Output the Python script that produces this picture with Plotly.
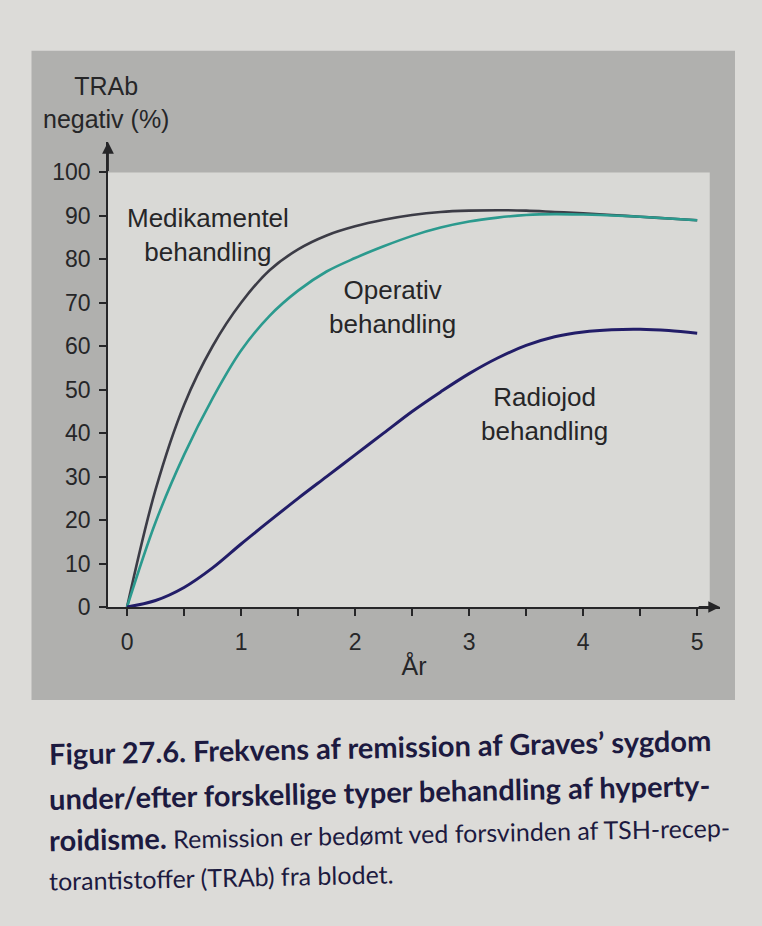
import plotly.graph_objects as go

# ---- data ----
years = [0, 0.25, 0.5, 0.75, 1, 1.25, 1.5, 1.75, 2, 2.25, 2.5, 2.75, 3, 3.25, 3.5, 3.75, 4, 4.25, 4.5, 4.75, 5]
medikamentel = [0, 27, 46.5, 60, 70, 77.5, 82.3, 85.5, 87.6, 89.1, 90.2, 90.9, 91.2, 91.3, 91.2, 90.9, 90.6, 90.2, 89.8, 89.4, 89]
operativ = [0, 19.5, 35, 48, 59, 67, 72.8, 77.2, 80.3, 83, 85.4, 87.3, 88.7, 89.6, 90.2, 90.4, 90.3, 90.1, 89.8, 89.4, 89]
radiojod = [0, 1.5, 4.5, 9, 14.5, 19.8, 25, 30, 35, 40, 45, 49.5, 53.7, 57.3, 60.2, 62.2, 63.3, 63.8, 63.9, 63.6, 63]

y_ticks = [0, 10, 20, 30, 40, 50, 60, 70, 80, 90, 100]
x_ticks = [0, 0.5, 1, 1.5, 2, 2.5, 3, 3.5, 4, 4.5, 5]
x_ticktext = ["0", "", "1", "", "2", "", "3", "", "4", "", "5"]

labels = ["Medikamentel<br>behandling", "Operativ<br>behandling", "Radiojod<br>behandling"]
label_x = [0.71, 2.33, 3.66]
label_y = [85.5, 69.0, 44.4]

caption_lines = [
    "<b>Figur 27.6. Frekvens af remission af Graves’ sygdom</b>",
    "<b>under/efter forskellige typer behandling af hyperty-</b>",
    "<b>roidisme.</b><span style=\"font-size:25px\"> Remission er bedømt ved forsvinden af TSH-recep-</span>",
    "<span style=\"font-size:25px\">torantistoffer (TRAb) fra blodet.</span>",
]

X0 = -0.167
XMAX = 5.2
YMAX = 107

fig = go.Figure()

INK = "#262628"
fig.add_trace(go.Scatter(x=years, y=medikamentel, mode="lines", line=dict(color="#3c3c46", width=2.6, shape="spline"),
                         name="Medikamentel behandling", hoverinfo="skip"))
fig.add_trace(go.Scatter(x=years, y=operativ, mode="lines", line=dict(color="#2b9a8e", width=2.6, shape="spline"),
                         name="Operativ behandling", hoverinfo="skip"))
fig.add_trace(go.Scatter(x=years, y=radiojod, mode="lines", line=dict(color="#221d68", width=3, shape="spline"),
                         name="Radiojod behandling", hoverinfo="skip"))

shapes = [
    # grey figure panel
    dict(type="rect", xref="paper", yref="paper", x0=-0.125, x1=1.0245, y0=-0.2, y1=1.196,
         fillcolor="#b0b0ae", line=dict(width=0), layer="below"),
    # light inner box
    dict(type="rect", xref="x", yref="y", x0=X0, x1=5.11, y0=0, y1=100,
         fillcolor="#d9d9d6", line=dict(width=0), layer="below"),
]

annotations = []
for t, xx, yy in zip(labels, label_x, label_y):
    annotations.append(dict(x=xx, y=yy, xref="x", yref="y", text=t, showarrow=False,
                            font=dict(family="Liberation Sans, Arial", size=26, color=INK), align="center"))

# axis arrows
annotations.append(dict(x=X0, y=YMAX, ax=X0, ay=100, xref="x", yref="y", axref="x", ayref="y",
                        text="", showarrow=True, arrowhead=2, arrowsize=1.3, arrowwidth=1.8, arrowcolor=INK))
annotations.append(dict(x=XMAX, y=0, ax=5.0, ay=0, xref="x", yref="y", axref="x", ayref="y",
                        text="", showarrow=True, arrowhead=2, arrowsize=1.3, arrowwidth=1.8, arrowcolor=INK))

# y-axis title
annotations.append(dict(x=-0.003, y=(607 - 102) / 465, xref="paper", yref="paper",
                        text="TRAb<br>negativ (%)", showarrow=False, align="center",
                        font=dict(family="Liberation Sans, Arial", size=25, color=INK),
                        xanchor="center", yanchor="middle"))

# caption lines
cap_y = [746, 791, 832, 877]
for t, py in zip(caption_lines, cap_y):
    annotations.append(dict(x=(47 - 108) / 612, y=(607 - py) / 465, xref="paper", yref="paper",
                            text=t, showarrow=False, xanchor="left", yanchor="middle", align="left",
                            textangle=-1.2,
                            font=dict(family="Lato, Open Sans, sans-serif", size=29, color="#1c1a40")))

fig.update_layout(
    width=762, height=926,
    margin=dict(l=108, r=42, t=142, b=319, autoexpand=False),
    paper_bgcolor="#dcdbd8",
    plot_bgcolor="rgba(0,0,0,0)",
    showlegend=False,
    shapes=shapes,
    annotations=annotations,
    font=dict(family="Liberation Sans, Arial", color=INK),
    xaxis=dict(range=[X0, XMAX], tickvals=x_ticks, ticktext=x_ticktext, ticks="outside", ticklen=7,
               tickwidth=1.5, tickcolor=INK, showline=True, linecolor=INK, linewidth=1.8,
               showgrid=False, zeroline=False, tickfont=dict(size=23, color=INK),
               ticklabelstandoff=6,
               title=dict(text="År", font=dict(size=25, color=INK), standoff=4)),
    yaxis=dict(range=[0, YMAX], tickvals=y_ticks, ticks="outside", ticklen=7, tickwidth=1.5,
               tickcolor=INK, showline=True, linecolor=INK, linewidth=1.8, showgrid=False,
               zeroline=False, tickfont=dict(size=23, color=INK), ticklabelstandoff=4),
)

fig.write_html("out.html", config={"displayModeBar": False},
               post_script="document.body.style.margin='0';document.body.style.overflow='hidden';")
